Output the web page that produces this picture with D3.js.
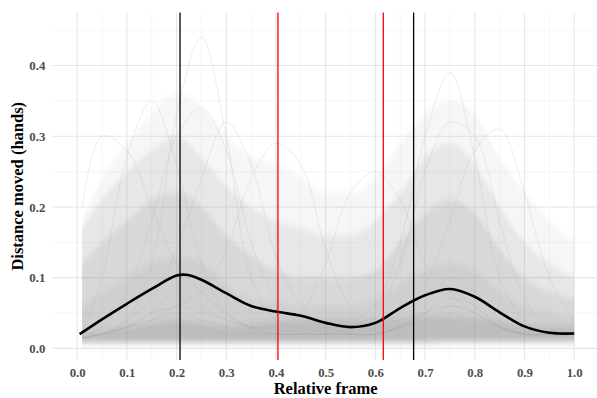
<!DOCTYPE html>
<html>
<head>
<meta charset="utf-8">
<script src="https://cdn.jsdelivr.net/npm/d3@7"></script>
<style>
  body { margin: 0; background: #fff; }
  svg text { font-family: "Liberation Serif", "Times New Roman", serif; font-weight: bold; }
</style>
</head>
<body>
<svg width="597" height="398" font-family="Liberation Serif, serif"></svg>
<script>
// relative frame grid for the cloud of trajectories
const frames = [0.01, 0.05, 0.1, 0.15, 0.2, 0.25, 0.3, 0.35, 0.4, 0.45, 0.5,
  0.55, 0.6, 0.65, 0.7, 0.75, 0.8, 0.85, 0.9, 0.95, 1.0]

// envelopes of the grey cloud, outermost first
const cloudLow = [0.008, 0.008, 0.008, 0.008, 0.008, 0.008, 0.008, 0.008, 0.008, 0.008, 0.008,
  0.008, 0.008, 0.008, 0.008, 0.009, 0.009, 0.009, 0.009, 0.009, 0.009]
const cloudFaint = [0.18, 0.24, 0.29, 0.33, 0.36, 0.34, 0.30, 0.27, 0.26, 0.24, 0.22,
  0.22, 0.24, 0.29, 0.33, 0.35, 0.33, 0.27, 0.22, 0.18, 0.15]
const cloudLight = [0.17, 0.21, 0.25, 0.28, 0.30, 0.27, 0.23, 0.20, 0.18, 0.17, 0.16,
  0.16, 0.18, 0.22, 0.27, 0.29, 0.26, 0.20, 0.15, 0.12, 0.10]
const cloudMedium = [0.12, 0.15, 0.18, 0.21, 0.22, 0.20, 0.16, 0.13, 0.11, 0.10, 0.10,
  0.10, 0.11, 0.15, 0.19, 0.21, 0.19, 0.14, 0.10, 0.08, 0.07]
const cloudDense = [0.06, 0.08, 0.10, 0.12, 0.13, 0.12, 0.09, 0.07, 0.065, 0.06, 0.06,
  0.06, 0.07, 0.09, 0.11, 0.12, 0.11, 0.08, 0.06, 0.05, 0.045]
const cloudCore = [0.022, 0.025, 0.03, 0.035, 0.04, 0.035, 0.032, 0.035, 0.038, 0.04, 0.04,
  0.04, 0.04, 0.042, 0.045, 0.045, 0.042, 0.038, 0.033, 0.03, 0.03]

// a few individual trajectories that stand out above the cloud
const traces = [
  [0.015, 0.02, 0.04, 0.12, 0.33, 0.44, 0.30, 0.10, 0.04, 0.03, 0.02, 0.02, 0.02, 0.03, 0.05, 0.08, 0.06, 0.03, 0.02, 0.02, 0.02],
  [0.015, 0.02, 0.02, 0.03, 0.03, 0.03, 0.02, 0.02, 0.02, 0.02, 0.03, 0.04, 0.06, 0.15, 0.30, 0.39, 0.27, 0.10, 0.04, 0.02, 0.02],
  [0.02, 0.10, 0.27, 0.35, 0.26, 0.12, 0.05, 0.03, 0.02, 0.02, 0.02, 0.02, 0.02, 0.03, 0.06, 0.10, 0.08, 0.04, 0.02, 0.02, 0.02],
  [0.20, 0.30, 0.28, 0.20, 0.12, 0.08, 0.05, 0.03, 0.03, 0.02, 0.02, 0.02, 0.02, 0.03, 0.04, 0.05, 0.04, 0.03, 0.02, 0.02, 0.02],
  [0.015, 0.02, 0.03, 0.05, 0.06, 0.08, 0.14, 0.24, 0.29, 0.26, 0.14, 0.06, 0.04, 0.04, 0.05, 0.06, 0.05, 0.03, 0.02, 0.02, 0.02],
  [0.015, 0.02, 0.03, 0.05, 0.08, 0.06, 0.04, 0.03, 0.03, 0.05, 0.12, 0.22, 0.25, 0.21, 0.12, 0.08, 0.05, 0.03, 0.02, 0.02, 0.02],
  [0.015, 0.02, 0.03, 0.04, 0.05, 0.04, 0.03, 0.02, 0.02, 0.02, 0.02, 0.03, 0.05, 0.12, 0.25, 0.32, 0.30, 0.18, 0.07, 0.03, 0.02],
  [0.015, 0.02, 0.03, 0.04, 0.06, 0.05, 0.04, 0.03, 0.02, 0.02, 0.02, 0.02, 0.03, 0.05, 0.09, 0.18, 0.28, 0.31, 0.22, 0.10, 0.04],
  [0.015, 0.03, 0.08, 0.18, 0.30, 0.34, 0.28, 0.15, 0.07, 0.04, 0.03, 0.02, 0.02, 0.03, 0.04, 0.06, 0.05, 0.03, 0.02, 0.02, 0.02],
  [0.015, 0.02, 0.04, 0.07, 0.14, 0.24, 0.32, 0.26, 0.13, 0.06, 0.03, 0.02, 0.02, 0.03, 0.05, 0.07, 0.06, 0.03, 0.02, 0.02, 0.02]
]

// smoothed mean curve
const meanX = [0.005, 0.05, 0.1, 0.15, 0.2, 0.22, 0.25, 0.3, 0.35, 0.4, 0.45, 0.5, 0.55,
  0.6, 0.65, 0.7, 0.75, 0.8, 0.85, 0.9, 0.95, 1.0]
const meanY = [0.020, 0.041, 0.063, 0.084, 0.103, 0.104, 0.097, 0.078, 0.060, 0.052, 0.046, 0.036, 0.030,
  0.036, 0.057, 0.075, 0.084, 0.073, 0.051, 0.031, 0.022, 0.021]

// event markers
const blackMarks = [0.207, 0.677]
const redMarks = [0.404, 0.616]

const xTicks = d3.range(0, 1.0001, 0.1)
const yTicks = [0, 0.1, 0.2, 0.3, 0.4]

const svg = d3.select("svg")
const x = d3.scaleLinear().domain([-0.05, 1.05]).range([52.3, 599])
const y = d3.scaleLinear().domain([-0.0165, 0.475]).range([360, 12.5])
const yTop = y.range()[1], yBottom = y.range()[0]

// soften the band edges vertically
const defs = svg.append("defs")
defs.append("filter").attr("id", "soft")
  .attr("x", "-5%").attr("y", "-10%").attr("width", "110%").attr("height", "120%")
  .append("feGaussianBlur").attr("stdDeviation", "0.4 3")

// grid
const grid = svg.append("g")
grid.selectAll(".minx").data(d3.range(0.05, 1.06, 0.1)).join("line")
  .attr("x1", d => x(d)).attr("x2", d => x(d)).attr("y1", yTop).attr("y2", yBottom)
  .attr("stroke", "#f0f0f0").attr("stroke-width", 0.6)
grid.selectAll(".miny").data([0.05, 0.15, 0.25, 0.35, 0.45]).join("line")
  .attr("x1", x.range()[0]).attr("x2", x.range()[1]).attr("y1", d => y(d)).attr("y2", d => y(d))
  .attr("stroke", "#f0f0f0").attr("stroke-width", 0.6)
grid.selectAll(".majx").data(xTicks).join("line")
  .attr("x1", d => x(d)).attr("x2", d => x(d)).attr("y1", yTop).attr("y2", yBottom)
  .attr("stroke", "#e6e6e6").attr("stroke-width", 1.1)
grid.selectAll(".majy").data(yTicks).join("line")
  .attr("x1", x.range()[0]).attr("x2", x.range()[1]).attr("y1", d => y(d)).attr("y2", d => y(d))
  .attr("stroke", "#e6e6e6").attr("stroke-width", 1.1)

// cloud bands
const band = d3.area()
  .x((d, i) => x(frames[i]))
  .y0((d, i) => y(cloudLow[i]))
  .y1(d => y(d))
  .curve(d3.curveMonotoneX)
const bands = [[cloudFaint, 0.08], [cloudLight, 0.14], [cloudMedium, 0.17], [cloudDense, 0.12], [cloudCore, 0.27]]
svg.append("g").attr("filter", "url(#soft)")
  .selectAll("path").data(bands).join("path")
  .attr("d", d => band(d[0]))
  .attr("fill", "#8c8c8c")
  .attr("fill-opacity", d => d[1])

// individual trajectories
const traceLine = d3.line()
  .x((d, i) => x(frames[i]))
  .y(d => y(d))
  .curve(d3.curveCatmullRom.alpha(0.5))
svg.append("g").selectAll("path").data(traces).join("path")
  .attr("d", traceLine)
  .attr("fill", "none")
  .attr("stroke", "#a8a8a8")
  .attr("stroke-opacity", 0.3)
  .attr("stroke-width", 0.7)

// mean curve
const meanLine = d3.line()
  .x((d, i) => x(meanX[i]))
  .y(d => y(d))
  .curve(d3.curveCatmullRom.alpha(0.5))
svg.append("path").datum(meanY)
  .attr("d", meanLine)
  .attr("fill", "none")
  .attr("stroke", "#000")
  .attr("stroke-width", 2.6)

// vertical markers
svg.selectAll(".blk").data(blackMarks).join("line")
  .attr("x1", d => x(d)).attr("x2", d => x(d)).attr("y1", yTop).attr("y2", yBottom)
  .attr("stroke", "#000").attr("stroke-width", 1.3)
svg.selectAll(".red").data(redMarks).join("line")
  .attr("x1", d => x(d)).attr("x2", d => x(d)).attr("y1", yTop).attr("y2", yBottom)
  .attr("stroke", "#ff0000").attr("stroke-width", 1.3)

// axes (no tick marks, no domain)
const xAxis = svg.append("g").attr("transform", `translate(0,${yBottom})`)
  .call(d3.axisBottom(x).tickValues(xTicks).tickFormat(d3.format(".1f")).tickSize(0).tickPadding(8))
const yAxis = svg.append("g").attr("transform", `translate(${x.range()[0]},0)`)
  .call(d3.axisLeft(y).tickValues(yTicks).tickFormat(d3.format(".1f")).tickSize(0).tickPadding(7))
for (const a of [xAxis, yAxis]) {
  a.attr("font-family", null).attr("font-size", null)
  a.select(".domain").remove()
  a.selectAll("text")
    .attr("fill", "#4d4d4d")
    .style("font-size", "12.8px")
}

svg.append("text")
  .attr("x", x(0.5)).attr("y", 394)
  .attr("text-anchor", "middle")
  .style("font-size", "16.5px")
  .text("Relative frame")

svg.append("text")
  .attr("transform", `translate(23,${(yTop + yBottom) / 2}) rotate(-90)`)
  .attr("text-anchor", "middle")
  .style("font-size", "16.5px")
  .text("Distance moved (hands)")
</script>
</body>
</html>
